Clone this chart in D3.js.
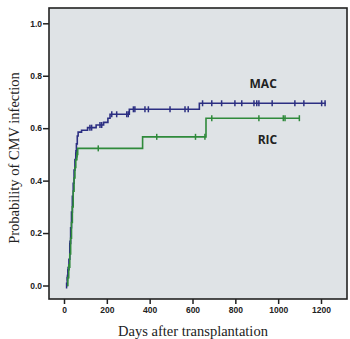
<!DOCTYPE html>
<html>
<head>
<meta charset="utf-8">
<script src="https://cdn.jsdelivr.net/npm/d3@7"></script>
<style>
  body { margin: 0; background: #fff; }
  svg { display: block; }
</style>
</head>
<body>
<div id="chart"><svg width="350" height="339"></svg></div>
<script>
// step points [day, probability]
const macSteps = [
  [12, 0], [15, 0.03], [18, 0.06], [23, 0.1], [27, 0.16], [31, 0.22], [35, 0.28],
  [39, 0.34], [43, 0.39], [47, 0.44], [51, 0.48], [55, 0.505], [58, 0.54],
  [62, 0.57], [66, 0.585], [82, 0.592], [110, 0.602], [150, 0.612], [185, 0.622],
  [205, 0.638], [215, 0.653], [305, 0.672], [632, 0.695]
]
const macEnd = 1222
const macCensored = [12, 16, 19, 28, 56, 121, 129, 168, 176, 223, 246, 293, 300, 324, 331,
  378, 394, 495, 565, 580, 647, 690, 736, 798, 830, 887, 900, 910, 972, 1078, 1120, 1203, 1219]

const ricSteps = [
  [14, 0], [18, 0.03], [22, 0.07], [27, 0.12], [31, 0.18], [35, 0.24], [39, 0.3],
  [43, 0.36], [47, 0.41], [51, 0.45], [55, 0.48], [60, 0.5], [64, 0.523],
  [367, 0.567], [663, 0.638]
]
const ricEnd = 1102
const ricCensored = [22, 61, 160, 433, 614, 658, 690, 910, 1024, 1032, 1099]

const xTicks = [0, 200, 400, 600, 800, 1000, 1200]
const yTicks = [0, 0.2, 0.4, 0.6, 0.8, 1.0]

const series = [
  {name: 'MAC', steps: macSteps, end: macEnd, censored: macCensored, color: '#2c2f82', labelAt: [930, 0.77]},
  {name: 'RIC', steps: ricSteps, end: ricEnd, censored: ricCensored, color: '#2f8a3b', labelAt: [950, 0.555]}
]

const box = {left: 49, top: 8, right: 347, bottom: 299}

const x = d3.scaleLinear().domain([0, 1200]).range([64, 321])
const y = d3.scaleLinear().domain([0, 1]).range([285.5, 23.3])

const svg = d3.select('#chart svg')

svg.append('rect')
  .attr('x', box.left)
  .attr('y', box.top)
  .attr('width', box.right - box.left)
  .attr('height', box.bottom - box.top)
  .attr('fill', '#dfe3e6')

function valueAt (steps, t) {
  let v = steps[0][1]
  steps.forEach(function (s) {
    if (s[0] <= t) v = s[1]
  })
  return v
}

const line = d3.line()
  .x(function (d) { return x(d[0]) })
  .y(function (d) { return y(d[1]) })
  .curve(d3.curveStepAfter)

series.forEach(function (s) {
  const pts = s.steps.concat([[s.end, s.steps[s.steps.length - 1][1]]])
  svg.append('path')
    .datum(pts)
    .attr('d', line)
    .attr('fill', 'none')
    .attr('stroke', s.color)
    .attr('stroke-width', 1.6)

  svg.selectAll(null)
    .data(s.censored)
    .enter()
    .append('line')
    .attr('x1', function (d) { return x(d) })
    .attr('x2', function (d) { return x(d) })
    .attr('y1', function (d) { return y(valueAt(s.steps, d)) - 3 })
    .attr('y2', function (d) { return y(valueAt(s.steps, d)) + 3 })
    .attr('stroke', s.color)
    .attr('stroke-width', 1.5)

  svg.append('text')
    .attr('x', x(s.labelAt[0]))
    .attr('y', y(s.labelAt[1]))
    .attr('text-anchor', 'middle')
    .attr('dominant-baseline', 'central')
    .style('font-family', '"Open Sans", "Liberation Sans", sans-serif')
    .style('font-weight', 'bold')
    .style('font-size', '12px')
    .attr('fill', '#222')
    .text(s.name)
})

// frame
svg.append('rect')
  .attr('x', box.left)
  .attr('y', box.top)
  .attr('width', box.right - box.left)
  .attr('height', box.bottom - box.top)
  .attr('fill', 'none')
  .attr('stroke', '#222')
  .attr('stroke-width', 1.6)

const xAxis = svg.append('g')
  .attr('transform', 'translate(0,' + box.bottom + ')')
  .call(d3.axisBottom(x).tickValues(xTicks).tickFormat(d3.format('d')).tickSize(5).tickSizeOuter(0))
xAxis.select('.domain').remove()

const yAxis = svg.append('g')
  .attr('transform', 'translate(' + box.left + ',0)')
  .call(d3.axisLeft(y).tickValues(yTicks).tickFormat(d3.format('.1f')).tickSize(6).tickSizeOuter(0))
yAxis.select('.domain').remove()

svg.selectAll('.tick line').attr('stroke', '#222').attr('stroke-width', 1.5)
svg.selectAll('.tick text')
  .style('font-family', '"Liberation Sans", Arial, sans-serif')
  .style('font-weight', 'bold')
  .style('font-size', '8.5px')
  .attr('fill', '#222')
xAxis.selectAll('.tick text').attr('dy', '0.9em').attr('y', 6)
yAxis.selectAll('.tick text').attr('x', -7)

svg.append('text')
  .attr('x', 193)
  .attr('y', 336)
  .attr('text-anchor', 'middle')
  .style('font-family', '"Liberation Serif", "DejaVu Serif", serif')
  .style('font-size', '14.5px')
  .attr('fill', '#222')
  .text('Days after transplantation')

svg.append('text')
  .attr('transform', 'translate(19,158) rotate(-90)')
  .attr('text-anchor', 'middle')
  .style('font-family', '"Liberation Serif", "DejaVu Serif", serif')
  .style('font-size', '14.5px')
  .attr('fill', '#222')
  .text('Probability of CMV infection')
</script>
</body>
</html>
